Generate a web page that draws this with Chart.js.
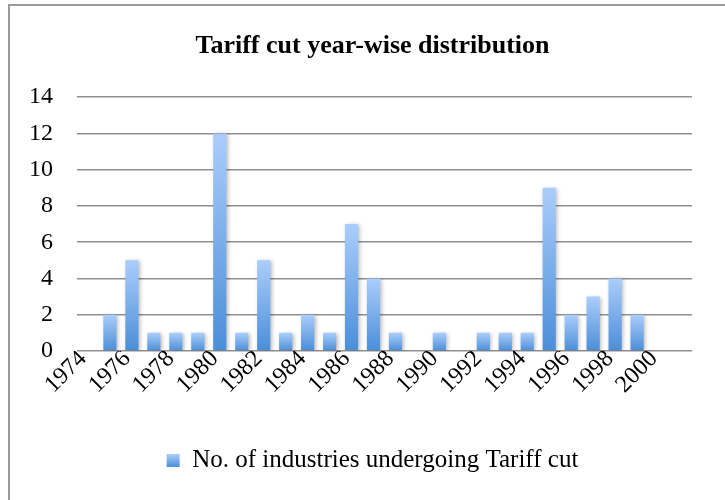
<!DOCTYPE html>
<html>
<head>
<meta charset="utf-8">
<script src="https://cdn.jsdelivr.net/npm/chart.js@4/dist/chart.umd.min.js"></script>
<style>
  html, body { margin: 0; padding: 0; background: #ffffff; }
  #wrap { position: relative; width: 725px; height: 500px; overflow: hidden; }
  #frame {
    position: absolute; left: 8px; top: 4px; width: 760px; height: 540px;
    border: 2px solid #9a9a9a; box-sizing: border-box; pointer-events: none;
  }
  canvas { position: absolute; left: 0; top: 0; }
</style>
</head>
<body>
<div id="wrap">
  <canvas id="chart" width="725" height="500"></canvas>
  <div id="frame"></div>
</div>
<script>
// Years on the category axis (every other one is labelled)
const years = [
  1974, 1975, 1976, 1977, 1978, 1979, 1980, 1981, 1982, 1983,
  1984, 1985, 1986, 1987, 1988, 1989, 1990, 1991, 1992, 1993,
  1994, 1995, 1996, 1997, 1998, 1999, 2000, 2001
];
// Number of industries undergoing a tariff cut in each year
const industries = [
  0, 2, 5, 1, 1, 1, 12, 1, 5, 1,
  2, 1, 7, 4, 1, 0, 1, 0, 1, 1,
  1, 9, 2, 3, 4, 2, 0, null
];
// Value axis range and labelled steps
const yMin = 0;
const yMax = 14;
const yStep = 2;

const seriesName = 'No. of industries undergoing Tariff cut';
const titleText = 'Tariff cut year-wise distribution';
const serif = "'Liberation Serif', 'Times New Roman', serif";

const topColor = '#abcdfb';
const bottomColor = '#4a8ed8';

// Vertical light-to-dark fill for each bar, spanning its own height
function barFill(ctx) {
  const chart = ctx.chart;
  if (ctx.type !== 'data' || !chart.chartArea) return '#6fa6e6';
  const y = chart.scales.y;
  const v = ctx.raw;
  if (v === null || v === undefined) return '#6fa6e6';
  const top = y.getPixelForValue(v);
  const bottom = y.getPixelForValue(0);
  if (!isFinite(top) || Math.abs(bottom - top) < 0.5) return '#6fa6e6';
  const g = chart.ctx.createLinearGradient(0, top, 0, bottom);
  g.addColorStop(0, topColor);
  g.addColorStop(1, bottomColor);
  return g;
}

// Soft drop shadow behind the bars
const barShadow = {
  id: 'barShadow',
  beforeDatasetsDraw(chart) {
    const c = chart.ctx;
    c.save();
    c.shadowColor = 'rgba(0,0,0,0.28)';
    c.shadowBlur = 4;
    c.shadowOffsetX = 1.5;
    c.shadowOffsetY = 1;
  },
  afterDatasetsDraw(chart) {
    chart.ctx.restore();
  }
};

// Title and legend are centred on the whole framed chart, which extends
// to the right of the plot area, so nudge both blocks to that centre.
const frameCentre = {
  id: 'frameCentre',
  afterLayout(chart) {
    const dx = 26.5;
    [chart.titleBlock, chart.legend].forEach(b => {
      if (b) { b.left += dx; b.right += dx; }
    });
  }
};

new Chart(document.getElementById('chart'), {
  type: 'bar',
  data: {
    labels: years.map(String),
    datasets: [{
      label: seriesName,
      data: industries,
      backgroundColor: barFill,
      borderWidth: 0,
      categoryPercentage: 1.0,
      barPercentage: 0.6
    }]
  },
  options: {
    responsive: false,
    animation: false,
    layout: { padding: { left: 0, right: 33, top: 5, bottom: 17 } },
    plugins: {
      title: {
        display: true,
        text: titleText,
        color: '#000000',
        font: { family: serif, size: 26, weight: 'bold' },
        padding: { top: 26, bottom: 35 }
      },
      legend: {
        display: true,
        position: 'bottom',
        labels: {
          color: '#000000',
          font: { family: serif, size: 25 },
          boxWidth: 13,
          boxHeight: 13,
          padding: 10,
          generateLabels(chart) {
            const items = Chart.defaults.plugins.legend.labels.generateLabels(chart);
            const a = chart.legend;
            items.forEach(it => {
              const y0 = (a && a.top !== undefined) ? a.top + 16 : 452;
              const g = chart.ctx.createLinearGradient(0, y0, 0, y0 + 13);
              g.addColorStop(0, topColor);
              g.addColorStop(1, bottomColor);
              it.fillStyle = g;
              it.lineWidth = 0;
              it.strokeStyle = 'rgba(0,0,0,0)';
            });
            return items;
          }
        }
      },
      tooltip: { enabled: false }
    },
    scales: {
      x: {
        grid: { display: false, drawTicks: false },
        border: { display: false },
        afterFit(scale) { scale.height = 87; },
        ticks: {
          color: '#000000',
          font: { family: serif, size: 24 },
          autoSkip: false,
          maxRotation: 45,
          minRotation: 45,
          padding: -6,
          labelOffset: -5,
          callback(value, index) {
            return index % 2 === 0 ? years[index] : '';
          }
        }
      },
      y: {
        min: yMin,
        max: yMax,
        afterFit(scale) { scale.width = 77; },
        grid: { color: '#8f8f8f', lineWidth: 1.5, drawTicks: false },
        border: { display: false },
        ticks: {
          color: '#000000',
          font: { family: serif, size: 24 },
          stepSize: yStep,
          padding: 24
        }
      }
    }
  },
  plugins: [barShadow, frameCentre]
});
</script>
</body>
</html>
